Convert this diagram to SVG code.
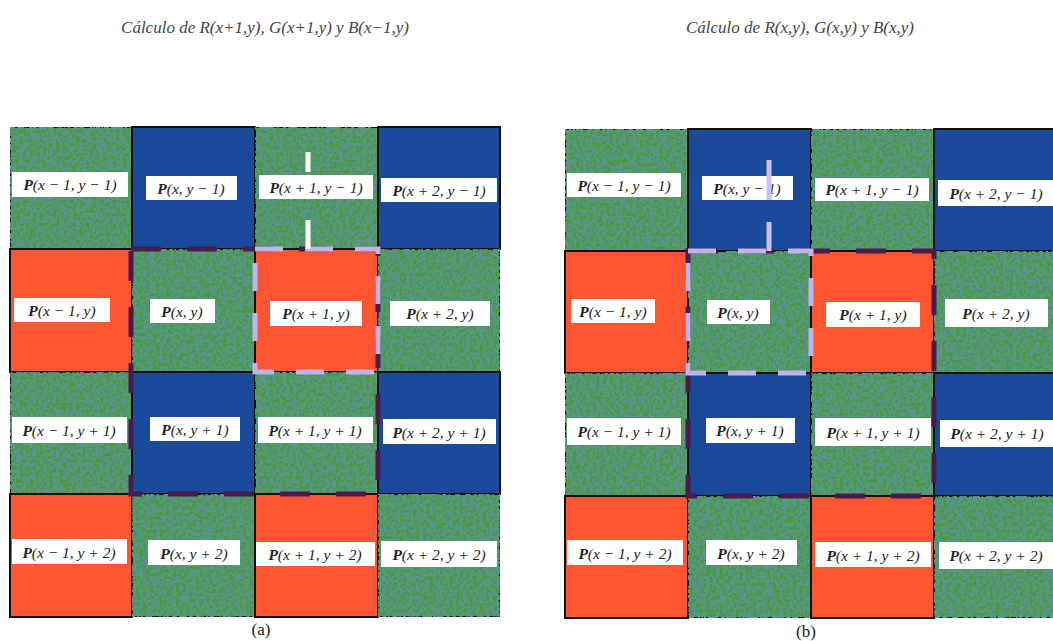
<svg xmlns="http://www.w3.org/2000/svg" width="1053" height="641" viewBox="0 0 1053 641">
<style>
.g{fill:#4a9a3e;filter:url(#nz)}
.b{fill:#1b4a9c}
.r{fill:#ff5533}
.cell{stroke:#111;stroke-width:2}
.lb{fill:#fff}
.t{font-family:"Liberation Serif",serif;font-style:italic;font-size:15.5px;fill:#222;text-anchor:middle}
.t tspan.p{font-weight:bold}
.ttl{font-family:"Liberation Serif",serif;font-style:italic;font-size:17px;fill:#444;text-anchor:middle}
.cap{font-family:"Liberation Serif",serif;font-size:17px;fill:#222;text-anchor:middle}
.lt{fill:none;stroke:#bdb6e6;stroke-width:5;stroke-dasharray:28 22}
.dk{fill:none;stroke:#4a1c4e;stroke-width:5;stroke-dasharray:30 26}
</style>
<defs>
<filter id="nz" x="0" y="0" width="100%" height="100%">
<feTurbulence type="fractalNoise" baseFrequency="0.3" numOctaves="3" seed="4" result="t"/>
<feColorMatrix in="t" type="matrix" values="0 0 0 0 0.1 0 0 0 0 0.3 0 0 0 0 0.26 10 0 0 0 -4.3" result="d"/>
<feComposite in="d" in2="SourceGraphic" operator="atop"/>
</filter>
</defs>
<rect width="1053" height="641" fill="#fff"/>
<text class="ttl" x="265" y="33">Cálculo de R(x+1,y), G(x+1,y) y B(x−1,y)</text>
<text class="ttl" x="800" y="33">Cálculo de R(x,y), G(x,y) y B(x,y)</text>

<g id="gridA">
<g id="a00"><rect class="g cell" x="10" y="127" width="122" height="122"/><rect class="lb" x="12" y="172" width="116" height="25"/><text class="t" x="70" y="190"><tspan class="p">P</tspan>(x − 1, y − 1)</text></g>
<g id="a01"><rect class="b cell" x="132" y="127" width="123" height="122"/><rect class="lb" x="146" y="176" width="91" height="24"/><text class="t" x="191" y="194"><tspan class="p">P</tspan>(x, y − 1)</text></g>
<g id="a02"><rect class="g cell" x="255" y="127" width="123" height="122"/><rect class="lb" x="259" y="175" width="114" height="24"/><text class="t" x="316" y="193"><tspan class="p">P</tspan>(x + 1, y − 1)</text></g>
<g id="a03"><rect class="b cell" x="378" y="127" width="122" height="122"/><rect class="lb" x="381" y="178" width="116" height="24"/><text class="t" x="439" y="196"><tspan class="p">P</tspan>(x + 2, y − 1)</text></g>

<g id="a10"><rect class="r cell" x="10" y="249" width="122" height="123"/><rect class="lb" x="14" y="298" width="96" height="24"/><text class="t" x="62" y="316"><tspan class="p">P</tspan>(x − 1, y)</text></g>
<g id="a11"><rect class="g cell" x="132" y="249" width="123" height="123"/><rect class="lb" x="150" y="299" width="65" height="24"/><text class="t" x="182" y="317"><tspan class="p">P</tspan>(x, y)</text></g>
<g id="a12"><rect class="r cell" x="255" y="249" width="123" height="123"/><rect class="lb" x="270" y="301" width="92" height="25"/><text class="t" x="316" y="319"><tspan class="p">P</tspan>(x + 1, y)</text></g>
<g id="a13"><rect class="g cell" x="378" y="249" width="122" height="123"/><rect class="lb" x="390" y="301" width="100" height="25"/><text class="t" x="440" y="319"><tspan class="p">P</tspan>(x + 2, y)</text></g>

<g id="a20"><rect class="g cell" x="10" y="372" width="122" height="122"/><rect class="lb" x="12" y="417" width="115" height="26"/><text class="t" x="69" y="436"><tspan class="p">P</tspan>(x − 1, y + 1)</text></g>
<g id="a21"><rect class="b cell" x="132" y="372" width="123" height="122"/><rect class="lb" x="150" y="417" width="90" height="24"/><text class="t" x="195" y="435"><tspan class="p">P</tspan>(x, y + 1)</text></g>
<g id="a22"><rect class="g cell" x="255" y="372" width="123" height="122"/><rect class="lb" x="258" y="417" width="115" height="26"/><text class="t" x="315" y="436"><tspan class="p">P</tspan>(x + 1, y + 1)</text></g>
<g id="a23"><rect class="b cell" x="378" y="372" width="122" height="122"/><rect class="lb" x="383" y="419" width="113" height="25"/><text class="t" x="439" y="438"><tspan class="p">P</tspan>(x + 2, y + 1)</text></g>

<g id="a30"><rect class="r cell" x="10" y="494" width="122" height="123"/><rect class="lb" x="12" y="539" width="115" height="25"/><text class="t" x="69" y="558"><tspan class="p">P</tspan>(x − 1, y + 2)</text></g>
<g id="a31"><rect class="g cell" x="132" y="494" width="123" height="123"/><rect class="lb" x="148" y="540" width="92" height="25"/><text class="t" x="194" y="559"><tspan class="p">P</tspan>(x, y + 2)</text></g>
<g id="a32"><rect class="r cell" x="255" y="494" width="123" height="123"/><rect class="lb" x="256" y="542" width="119" height="24"/><text class="t" x="315" y="560"><tspan class="p">P</tspan>(x + 1, y + 2)</text></g>
<g id="a33"><rect class="g cell" x="378" y="494" width="122" height="123"/><rect class="lb" x="381" y="541" width="116" height="26"/><text class="t" x="439" y="560"><tspan class="p">P</tspan>(x + 2, y + 2)</text></g>
</g>

<g id="gridB">
<g id="b00"><rect class="g cell" x="565" y="129" width="123" height="122"/><rect class="lb" x="567" y="173" width="114" height="24"/><text class="t" x="624" y="191"><tspan class="p">P</tspan>(x − 1, y − 1)</text></g>
<g id="b01"><rect class="b cell" x="688" y="129" width="123" height="122"/><rect class="lb" x="702" y="176" width="91" height="24"/><text class="t" x="747" y="194"><tspan class="p">P</tspan>(x, y − 1)</text></g>
<g id="b02"><rect class="g cell" x="811" y="129" width="123" height="122"/><rect class="lb" x="815" y="178" width="114" height="23"/><text class="t" x="872" y="195"><tspan class="p">P</tspan>(x + 1, y − 1)</text></g>
<g id="b03"><rect class="b cell" x="934" y="129" width="123" height="122"/><rect class="lb" x="938" y="180" width="115" height="26"/><text class="t" x="996" y="199"><tspan class="p">P</tspan>(x + 2, y − 1)</text></g>

<g id="b10"><rect class="r cell" x="565" y="251" width="123" height="122"/><rect class="lb" x="571" y="299" width="84" height="24"/><text class="t" x="613" y="317"><tspan class="p">P</tspan>(x − 1, y)</text></g>
<g id="b11"><rect class="g cell" x="688" y="251" width="123" height="122"/><rect class="lb" x="707" y="300" width="63" height="24"/><text class="t" x="738" y="318"><tspan class="p">P</tspan>(x, y)</text></g>
<g id="b12"><rect class="r cell" x="811" y="251" width="123" height="122"/><rect class="lb" x="826" y="302" width="94" height="25"/><text class="t" x="873" y="320"><tspan class="p">P</tspan>(x + 1, y)</text></g>
<g id="b13"><rect class="g cell" x="934" y="251" width="123" height="122"/><rect class="lb" x="945" y="299" width="103" height="28"/><text class="t" x="996" y="319"><tspan class="p">P</tspan>(x + 2, y)</text></g>

<g id="b20"><rect class="g cell" x="565" y="373" width="123" height="123"/><rect class="lb" x="567" y="418" width="114" height="27"/><text class="t" x="624" y="437"><tspan class="p">P</tspan>(x − 1, y + 1)</text></g>
<g id="b21"><rect class="b cell" x="688" y="373" width="123" height="123"/><rect class="lb" x="706" y="418" width="89" height="25"/><text class="t" x="750" y="436"><tspan class="p">P</tspan>(x, y + 1)</text></g>
<g id="b22"><rect class="g cell" x="811" y="373" width="123" height="123"/><rect class="lb" x="815" y="418" width="116" height="28"/><text class="t" x="873" y="438"><tspan class="p">P</tspan>(x + 1, y + 1)</text></g>
<g id="b23"><rect class="b cell" x="934" y="373" width="123" height="123"/><rect class="lb" x="940" y="420" width="113" height="27"/><text class="t" x="997" y="439"><tspan class="p">P</tspan>(x + 2, y + 1)</text></g>

<g id="b30"><rect class="r cell" x="565" y="496" width="123" height="122"/><rect class="lb" x="567" y="540" width="116" height="25"/><text class="t" x="625" y="559"><tspan class="p">P</tspan>(x − 1, y + 2)</text></g>
<g id="b31"><rect class="g cell" x="688" y="496" width="123" height="122"/><rect class="lb" x="706" y="540" width="91" height="25"/><text class="t" x="751" y="559"><tspan class="p">P</tspan>(x, y + 2)</text></g>
<g id="b32"><rect class="r cell" x="811" y="496" width="123" height="122"/><rect class="lb" x="815" y="542" width="116" height="25"/><text class="t" x="873" y="561"><tspan class="p">P</tspan>(x + 1, y + 2)</text></g>
<g id="b33"><rect class="g cell" x="934" y="496" width="123" height="122"/><rect class="lb" x="939" y="542" width="114" height="27"/><text class="t" x="996" y="561"><tspan class="p">P</tspan>(x + 2, y + 2)</text></g>
</g>

<g id="connectors">
<rect class="dk" x="131" y="249" width="247" height="245"/>
<rect class="lt" x="255" y="249" width="123" height="123"/>
<line class="lt" x1="308" y1="152" x2="308" y2="172" style="stroke:#fff;stroke-dasharray:none"/>
<line class="lt" x1="308" y1="220" x2="308" y2="249" style="stroke:#fff;stroke-dasharray:none"/>
<rect class="dk" x="688" y="251" width="246" height="245"/>
<rect class="lt" x="688" y="251" width="123" height="122"/>
<line class="lt" x1="769" y1="160" x2="769" y2="200" style="stroke:#c9c2ee;stroke-dasharray:none"/>
<line class="lt" x1="769" y1="222" x2="769" y2="251" style="stroke:#c9c2ee;stroke-dasharray:none"/>
</g>

<text class="cap" x="261" y="635">(a)</text>
<text class="cap" x="806" y="637">(b)</text>
</svg>
